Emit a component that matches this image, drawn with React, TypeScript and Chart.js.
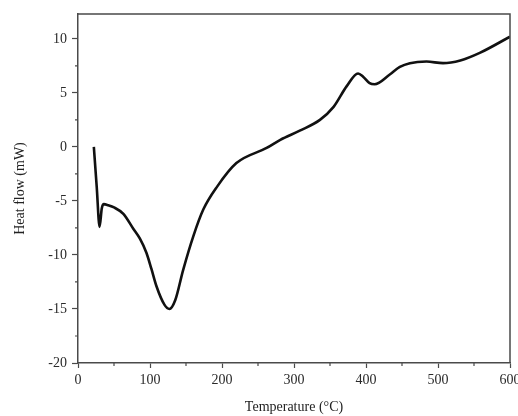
import React, { useEffect, useRef } from "react";
import { Chart, registerables } from "chart.js";

Chart.register(...registerables);

const temperature = [22, 26, 30, 33, 36, 42, 50, 63, 77, 86, 95, 102, 109, 120, 127, 135, 146, 160, 174, 193, 220, 262, 281, 308, 336, 355, 373, 389, 396, 405, 412, 433, 447, 461, 484, 507, 531, 558, 600];
const heatFlow = [0, -3.7, -7.4, -5.7, -5.3, -5.4, -5.6, -6.2, -7.6, -8.5, -9.8, -11.3, -12.9, -14.6, -15.0, -14.2, -11.4, -8.3, -5.8, -3.7, -1.5, -0.1, 0.65, 1.5, 2.5, 3.7, 5.6, 6.8, 6.5, 5.9, 5.8, 6.7, 7.4, 7.75, 7.9, 7.75, 8.0, 8.7, 10.2];

const xMajorTicks = [0, 100, 200, 300, 400, 500, 600];
const xMinorTicks = [50, 150, 250, 350, 450, 550];
const yMajorTicks = [-20, -15, -10, -5, 0, 5, 10];
const yMinorTicks = [-17.5, -12.5, -7.5, -2.5, 2.5, 7.5];

const xTitle = "Temperature (°C)";
const yTitle = "Heat flow (mW)";

const AXIS_COLOR = "#4a4a4a";
const FONT = "'Liberation Serif', 'DejaVu Serif', serif";

const framePlugin = {
  id: "frame",
  afterDraw(chart: any) {
    const { ctx, chartArea } = chart;
    const xs = chart.scales.x;
    const ys = chart.scales.y;
    ctx.save();
    ctx.strokeStyle = AXIS_COLOR;
    ctx.lineWidth = 1.5;
    ctx.beginPath();
    ctx.moveTo(chartArea.left, chartArea.top);
    ctx.lineTo(chartArea.right, chartArea.top);
    ctx.lineTo(chartArea.right, chartArea.bottom);
    ctx.stroke();
    ctx.lineWidth = 1.2;
    ctx.beginPath();
    for (const v of xMinorTicks) {
      const px = xs.getPixelForValue(v);
      ctx.moveTo(px, chartArea.bottom);
      ctx.lineTo(px, chartArea.bottom + 3);
    }
    for (const v of yMinorTicks) {
      const py = ys.getPixelForValue(v);
      ctx.moveTo(chartArea.left, py);
      ctx.lineTo(chartArea.left - 3, py);
    }
    ctx.stroke();
    ctx.restore();
  },
};

export default function App() {
  const ref = useRef<HTMLCanvasElement>(null);

  useEffect(() => {
    document.body.style.margin = "0";
    const canvas = ref.current;
    if (!canvas) return;
    const points = temperature.map((t, i) => ({ x: t, y: heatFlow[i] }));
    const chart = new Chart(canvas, {
      type: "line",
      data: {
        datasets: [
          {
            data: points,
            borderColor: "#111111",
            borderWidth: 2.6,
            pointRadius: 0,
            fill: false,
            cubicInterpolationMode: "monotone",
          },
        ],
      },
      options: {
        animation: false,
        responsive: false,
        maintainAspectRatio: false,
        layout: { padding: { top: 14, right: 8, left: 0, bottom: 0 } },
        plugins: { legend: { display: false }, tooltip: { enabled: false } },
        scales: {
          x: {
            type: "linear",
            min: 0,
            max: 600,
            afterBuildTicks: (s: any) => {
              s.ticks = xMajorTicks.map((v) => ({ value: v }));
            },
            afterFit: (s: any) => {
              s.height = 53;
              s.paddingRight = 0;
            },
            border: { color: AXIS_COLOR, width: 1.5 },
            grid: { drawOnChartArea: false, tickLength: 5, color: AXIS_COLOR, tickWidth: 1.2 },
            ticks: {
              color: "#2a2a2a",
              font: { family: FONT, size: 14 },
              padding: 4,
              maxRotation: 0,
            },
            title: {
              display: true,
              text: xTitle,
              color: "#222",
              font: { family: FONT, size: 14 },
              padding: { top: 0, bottom: 0 },
            },
          },
          y: {
            type: "linear",
            min: -20,
            max: 12.3,
            afterBuildTicks: (s: any) => {
              s.ticks = yMajorTicks.map((v) => ({ value: v }));
            },
            afterFit: (s: any) => {
              s.width = 78;
            },
            border: { color: AXIS_COLOR, width: 1.5 },
            grid: { drawOnChartArea: false, tickLength: 6, color: AXIS_COLOR, tickWidth: 1.2 },
            ticks: {
              color: "#2a2a2a",
              font: { family: FONT, size: 14 },
              padding: 5,
            },
            title: {
              display: true,
              text: yTitle,
              color: "#222",
              font: { family: FONT, size: 14 },
              padding: { top: 12, bottom: 0 },
            },
          },
        },
      },
      plugins: [framePlugin],
    });
    return () => chart.destroy();
  }, []);

  return (
    <div style={{ width: 518, height: 416, background: "#fff" }}>
      <canvas ref={ref} width={518} height={416} style={{ width: 518, height: 416, display: "block" }} />
    </div>
  );
}
